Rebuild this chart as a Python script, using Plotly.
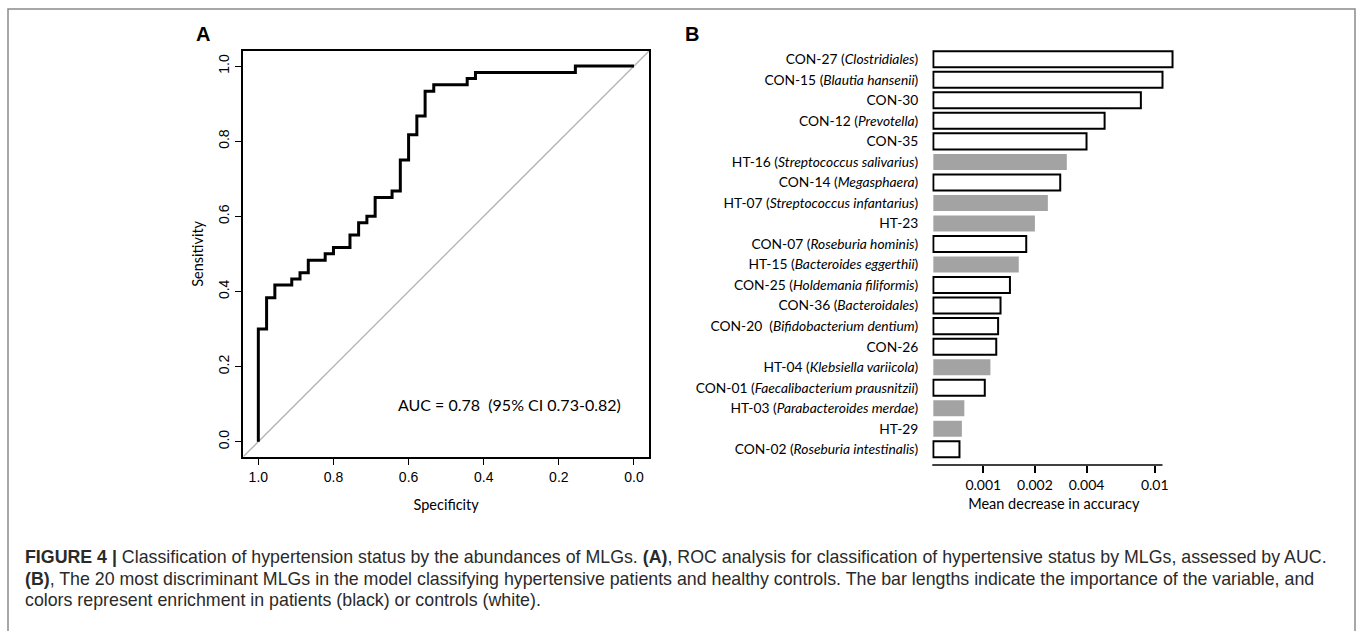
import math
import plotly.graph_objects as go

W, H = 1357, 631

# ---------------- Panel A: ROC curve (step corners) ----------------
specificity = [1.0, 0.978, 0.956, 0.911, 0.889, 0.867, 0.822, 0.800, 0.756, 0.733, 0.711,
               0.689, 0.644, 0.622, 0.600, 0.578, 0.556, 0.533, 0.444, 0.422, 0.156, 0.0]
sensitivity = [0.0, 0.300, 0.383, 0.417, 0.433, 0.450, 0.483, 0.500, 0.517, 0.550, 0.583,
               0.600, 0.650, 0.667, 0.750, 0.817, 0.867, 0.933, 0.950, 0.967, 0.983, 1.0]
roc_ticks = [1.0, 0.8, 0.6, 0.4, 0.2, 0.0]
roc_ticklabels = ["1.0", "0.8", "0.6", "0.4", "0.2", "0.0"]
auc_text = "AUC = 0.78\u00a0 (95% CI 0.73-0.82)"

# ---------------- Panel B: variable importance ----------------
mlg_ids = ["CON-27", "CON-15", "CON-30", "CON-12", "CON-35", "HT-16", "CON-14", "HT-07",
           "HT-23", "CON-07", "HT-15", "CON-25", "CON-36", "CON-20", "CON-26", "HT-04",
           "CON-01", "HT-03", "HT-29", "CON-02"]
mlg_taxa = ["Clostridiales", "Blautia hansenii", "", "Prevotella", "", "Streptococcus salivarius",
            "Megasphaera", "Streptococcus infantarius", "", "Roseburia hominis",
            "Bacteroides eggerthii", "Holdemania filiformis", "Bacteroidales",
            "Bifidobacterium dentium", "", "Klebsiella variicola", "Faecalibacterium prausnitzii",
            "Parabacteroides merdae", "", "Roseburia intestinalis"]
importance = [0.0127, 0.0111, 0.0083, 0.0051, 0.0040, 0.00307, 0.00281, 0.00238, 0.0020,
              0.00178, 0.00161, 0.00143, 0.00126, 0.00122, 0.00119, 0.00110, 0.00102,
              0.000775, 0.00075, 0.000726]
imp_ticks = [0.001, 0.002, 0.004, 0.01]
imp_ticklabels = ["0.001", "0.002", "0.004", "0.01"]

def label(i, t):
    if not t:
        return i
    sep = " \u00a0(" if i == "CON-20" else " ("
    return f"{i}{sep}<i>{t}</i>)"

labels = [label(i, t) for i, t in zip(mlg_ids, mlg_taxa)]
is_ht = [i.startswith("HT") for i in mlg_ids]

SANS = "Liberation Sans, Arial, sans-serif"
CAL = "Lato, Carlito, Calibri, sans-serif"

# log axis setup for panel B
X_BASE = 0.000511
lo = math.log10(X_BASE) - 0.006
hi = -1.88
axis_end = 0.0111

fig = go.Figure()

# diagonal reference line
fig.add_trace(go.Scatter(x=[1.04, -0.04], y=[-0.04, 1.04], mode="lines",
                         line=dict(color="#b4b4b4", width=1.3),
                         xaxis="x", yaxis="y", hoverinfo="skip", showlegend=False))
# ROC curve
fig.add_trace(go.Scatter(x=specificity, y=sensitivity, mode="lines",
                         line=dict(color="black", width=3, shape="vh"),
                         xaxis="x", yaxis="y", showlegend=False))

# Importance bars
fig.add_trace(go.Bar(
    y=labels, x=[v - X_BASE for v in importance], base=X_BASE, orientation="h",
    marker=dict(color=["#a3a3a3" if h else "white" for h in is_ht],
                line=dict(color=["#a3a3a3" if h else "black" for h in is_ht],
                          width=[0 if h else 2 for h in is_ht])),
    xaxis="x2", yaxis="y2", showlegend=False,
    customdata=importance, hovertemplate="%{y}: %{customdata}<extra></extra>"))

cap_font = dict(family=SANS, size=17.8, color="#2a2a2a")

fig.update_layout(
    width=W, height=H, margin=dict(l=0, r=0, t=0, b=0),
    paper_bgcolor="white", plot_bgcolor="white",
    bargap=0.22,
    xaxis=dict(domain=[243.3 / W, 649 / W], range=[1.04, -0.04],
               tickvals=roc_ticks, ticktext=roc_ticklabels,
               ticks="outside", ticklen=7, tickwidth=1.3, tickcolor="black",
               showline=True, mirror=True, linecolor="black", linewidth=1.5,
               showgrid=False, zeroline=False,
               tickfont=dict(family=SANS, size=14, color="black"),
               title=dict(text="Specificity", font=dict(family=CAL, size=14.5, color="black"),
                          standoff=16)),
    yaxis=dict(domain=[1 - 456.7 / H, 1 - 51 / H], range=[-0.04, 1.04],
               tickvals=roc_ticks, ticktext=roc_ticklabels, tickangle=-90,
               ticks="outside", ticklen=7, tickwidth=1.3, tickcolor="black",
               showline=True, mirror=True, linecolor="black", linewidth=1.5,
               showgrid=False, zeroline=False,
               tickfont=dict(family=SANS, size=14, color="black"),
               title=dict(text="Sensitivity", font=dict(family=CAL, size=14.5, color="black"),
                          standoff=9)),
    xaxis2=dict(domain=[932.3 / W, 1175.3 / W], type="log", range=[lo, hi],
                anchor="y2", tickvals=imp_ticks, ticktext=imp_ticklabels,
                ticks="outside", ticklen=7, tickwidth=1.5, tickcolor="black",
                showline=False, showgrid=False, zeroline=False,
                tickfont=dict(family=CAL, size=14, color="black"),
                title=dict(text="Mean decrease in accuracy",
                           font=dict(family=CAL, size=14.5, color="black"), standoff=7)),
    yaxis2=dict(domain=[1 - 465 / H, 1 - 49 / H], anchor="x2", type="category",
                categoryorder="array", categoryarray=labels,
                range=[len(labels) - 1 + 0.765, -0.5],
                showline=False, showgrid=False, zeroline=False, ticks="",
                ticklabelstandoff=13,
                tickfont=dict(family=CAL, size=13.8, color="black")),
    annotations=[
        dict(x=0.332, y=0.098, xref="x", yref="y", text=auc_text, showarrow=False,
             xanchor="center", yanchor="middle",
             font=dict(family=CAL, size=16, color="black")),
        dict(x=203 / W, y=1 - 34 / H, xref="paper", yref="paper", text="<b>A</b>",
             showarrow=False, xanchor="center", yanchor="middle",
             font=dict(family=SANS, size=20, color="black")),
        dict(x=692 / W, y=1 - 34 / H, xref="paper", yref="paper", text="<b>B</b>",
             showarrow=False, xanchor="center", yanchor="middle",
             font=dict(family=SANS, size=20, color="black")),
        dict(x=23 / W, y=1 - 557 / H, xref="paper", yref="paper", xanchor="left",
             yanchor="middle", showarrow=False, font=cap_font,
             text="<b>FIGURE 4 |</b> Classification of hypertension status by the abundances of MLGs. "
                  "<b>(A)</b>, ROC analysis for classification of hypertensive status by MLGs, assessed by AUC."),
        dict(x=23 / W, y=1 - 578.5 / H, xref="paper", yref="paper", xanchor="left",
             yanchor="middle", showarrow=False, font=cap_font,
             text="<b>(B)</b>, The 20 most discriminant MLGs in the model classifying hypertensive patients "
                  "and healthy controls. The bar lengths indicate the importance of the variable, and"),
        dict(x=23 / W, y=1 - 600 / H, xref="paper", yref="paper", xanchor="left",
             yanchor="middle", showarrow=False, font=cap_font,
             text="colors represent enrichment in patients (black) or controls (white)."),
    ],
    shapes=[
        # x-axis line of panel B (shorter than the plotting area)
        dict(type="line", xref="x2 domain", yref="y2 domain", x0=0,
             x1=(math.log10(axis_end) - lo) / (hi - lo), y0=0, y1=0,
             line=dict(color="black", width=1.5)),
        # figure frame
        dict(type="rect", xref="paper", yref="paper", x0=8 / W, x1=1355 / W,
             y0=-0.2, y1=1 - 9 / H, line=dict(color="#8a8a8a", width=1.5),
             fillcolor="rgba(0,0,0,0)", layer="below"),
    ],
)

fig.write_html("out.html", config={"displayModeBar": False},
               post_script="document.body.style.margin='0';document.body.style.overflow='hidden';")
